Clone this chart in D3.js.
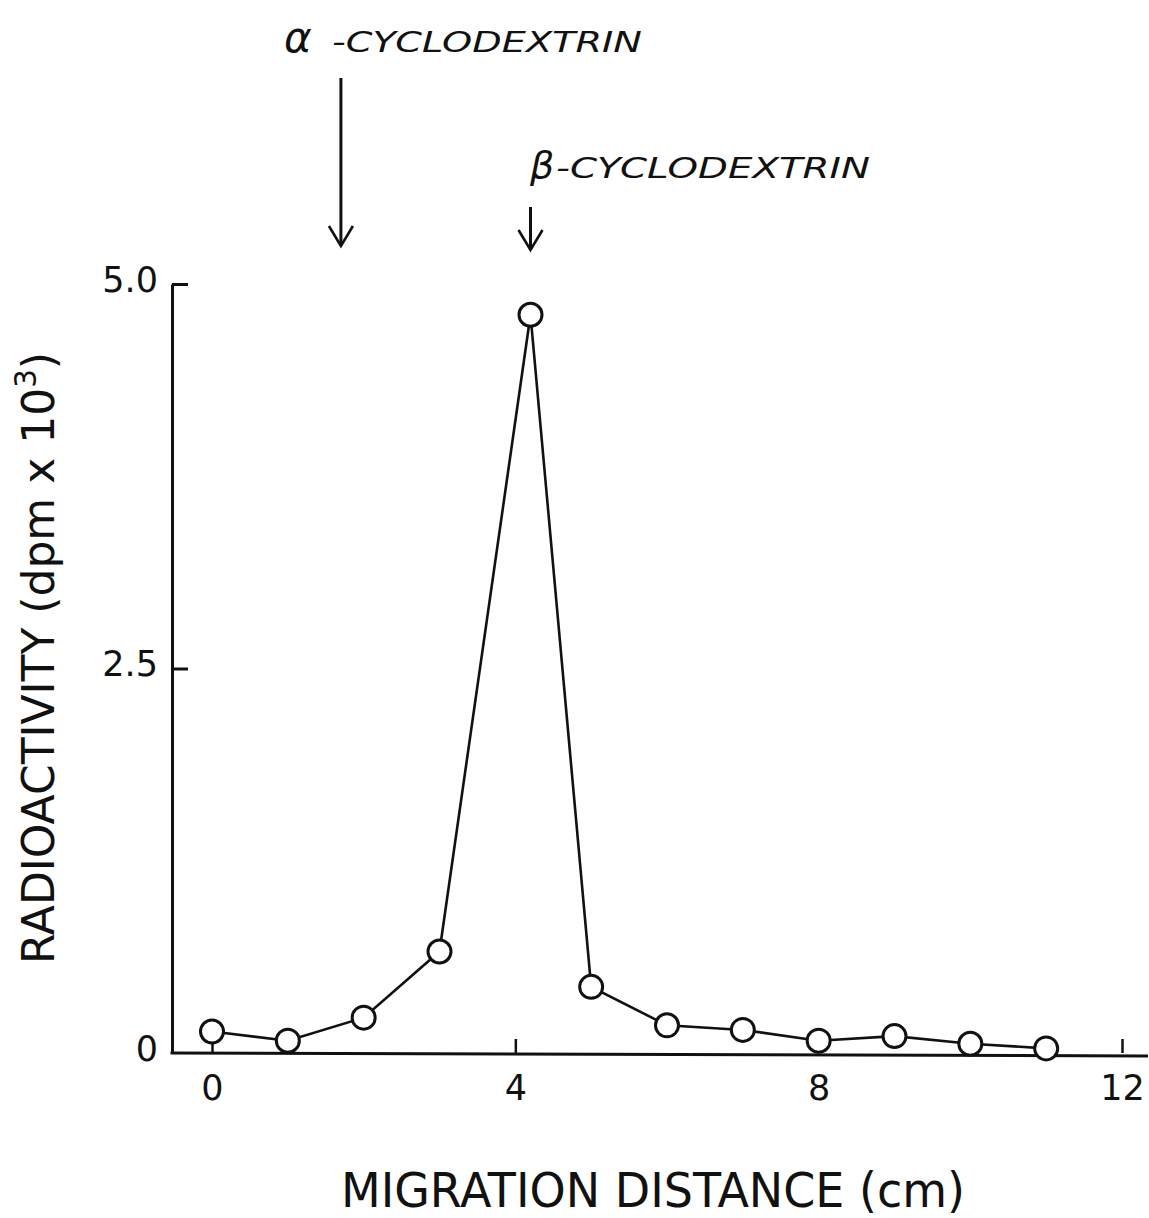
<!DOCTYPE html>
<html>
<head>
<meta charset="utf-8">
<script src="https://cdn.jsdelivr.net/npm/d3@7/dist/d3.min.js"></script>
<style>
  html, body { margin: 0; padding: 0; background: #fff; }
  svg { display: block; }
  text { font-family: "DejaVu Sans", "Liberation Sans", sans-serif; fill: #111; }
</style>
</head>
<body>
<script>
// Migration distance (cm) of each collected fraction and its radioactivity (dpm x 10^3)
const distance = [0, 1, 2, 3, 4.2, 5, 6, 7, 8, 9, 10, 11];
const activity = [0.14, 0.08, 0.23, 0.66, 4.80, 0.43, 0.18, 0.15, 0.08, 0.11, 0.06, 0.03];

// Axis ticks
const xTicks = [0, 4, 8, 12];
const xTickLabels = ["0", "4", "8", "12"];
const yTicks = [0, 2.5, 5];
const yTickLabels = ["0", "2.5", "5.0"];

// Standard markers: where each cyclodextrin runs
const markerGreek = ["α", "β"];
const markerNames = ["-CYCLODEXTRIN", "-CYCLODEXTRIN"];
const markerPos = [1.7, 4.2];

const W = 1149, H = 1218;
const svg = d3.select("body").append("svg")
  .attr("width", W).attr("height", H);

const x = d3.scaleLinear().domain([0, 12]).range([212, 1122]);
const y = d3.scaleLinear().domain([0, 5]).range([1053, 284]);
const axisLeftX = 172;
const ink = "#111";

// Y axis with inward ticks
const gy = svg.append("g")
  .attr("transform", `translate(${axisLeftX},0)`)
  .call(d3.axisLeft(y)
    .tickValues(yTicks)
    .tickFormat((d, i) => yTickLabels[i])
    .tickSize(-16)
    .tickSizeOuter(0)
    .tickPadding(14));
gy.select(".domain").attr("stroke", ink).attr("stroke-width", 3);
gy.selectAll(".tick line").attr("stroke", ink).attr("stroke-width", 3)
  .filter(d => d === 0).remove();
gy.selectAll(".tick text").attr("font-size", 35).attr("fill", ink)
  .attr("font-family", "DejaVu Sans").attr("dy", "0.2em");

// X axis: baseline runs across the full width, ticks point up
svg.append("line")
  .attr("x1", axisLeftX - 1.5).attr("x2", W - 1)
  .attr("y1", y(0)).attr("y2", y(0) + 3)
  .attr("stroke", ink).attr("stroke-width", 3);
const gx = svg.append("g")
  .attr("transform", `translate(0,${y(0)})`)
  .call(d3.axisBottom(x)
    .tickValues(xTicks)
    .tickFormat((d, i) => xTickLabels[i])
    .tickSize(-14)
    .tickSizeOuter(0)
    .tickPadding(22));
gx.select(".domain").remove();
gx.selectAll(".tick line").attr("stroke", ink).attr("stroke-width", 2.5);
gx.selectAll(".tick text").attr("font-size", 35).attr("fill", ink)
  .attr("font-family", "DejaVu Sans");

// Data trace
const pts = distance.map((d, i) => [d, activity[i]]);
svg.append("path")
  .datum(pts)
  .attr("fill", "none")
  .attr("stroke", ink)
  .attr("stroke-width", 2.6)
  .attr("stroke-linejoin", "miter")
  .attr("d", d3.line().x(d => x(d[0])).y(d => y(d[1])));

svg.selectAll("circle.pt")
  .data(pts)
  .join("circle")
  .attr("class", "pt")
  .attr("cx", d => x(d[0]))
  .attr("cy", d => y(d[1]))
  .attr("r", 11.5)
  .attr("fill", "#fff")
  .attr("stroke", ink)
  .attr("stroke-width", 3);

// Marker arrows and labels
const arrowTop = [78, 207];
const arrowBottom = [246, 250];
const labelBase = [52, 178];
const labelLen = [297, 300];
markerPos.forEach((m, i) => {
  const ax = x(m);
  const g = svg.append("g");
  g.append("line")
    .attr("x1", ax).attr("x2", ax)
    .attr("y1", arrowTop[i]).attr("y2", arrowBottom[i])
    .attr("stroke", ink).attr("stroke-width", 3);
  g.append("path")
    .attr("d", `M${ax - 12},${arrowBottom[i] - 20}L${ax},${arrowBottom[i]}L${ax + 12},${arrowBottom[i] - 20}`)
    .attr("fill", "none").attr("stroke", ink).attr("stroke-width", 2.6)
    .attr("stroke-linejoin", "miter");
});

// α label
svg.append("text")
  .attr("x", 284).attr("y", labelBase[0])
  .attr("font-size", 42).attr("font-style", "italic")
  .attr("font-family", "DejaVu Serif, serif")
  .text(markerGreek[0]);
svg.append("text")
  .attr("x", 332).attr("y", labelBase[0])
  .attr("font-size", 28).attr("font-style", "italic")
  .attr("textLength", labelLen[0] + 13).attr("lengthAdjust", "spacingAndGlyphs")
  .text(markerNames[0]);

// β label
svg.append("text")
  .attr("x", 530).attr("y", labelBase[1])
  .attr("font-size", 38).attr("font-style", "italic")
  .attr("font-family", "DejaVu Serif, serif")
  .text(markerGreek[1]);
svg.append("text")
  .attr("x", 556).attr("y", labelBase[1])
  .attr("font-size", 28).attr("font-style", "italic")
  .attr("textLength", labelLen[1] + 14).attr("lengthAdjust", "spacingAndGlyphs")
  .text(markerNames[1]);

// Axis titles
svg.append("text")
  .attr("x", 653).attr("y", 1207)
  .attr("text-anchor", "middle")
  .attr("font-size", 48)
  .attr("textLength", 624).attr("lengthAdjust", "spacingAndGlyphs")
  .text("MIGRATION DISTANCE (cm)");

const yt = svg.append("text")
  .attr("transform", "translate(54,658) rotate(-90)")
  .attr("text-anchor", "middle")
  .attr("font-size", 45)
  .attr("textLength", 612).attr("lengthAdjust", "spacingAndGlyphs");
yt.append("tspan").text("RADIOACTIVITY (dpm x 10");
yt.append("tspan").attr("font-size", 30).attr("dy", -18).text("3");
yt.append("tspan").attr("dy", 18).text(")");
</script>
</body>
</html>
